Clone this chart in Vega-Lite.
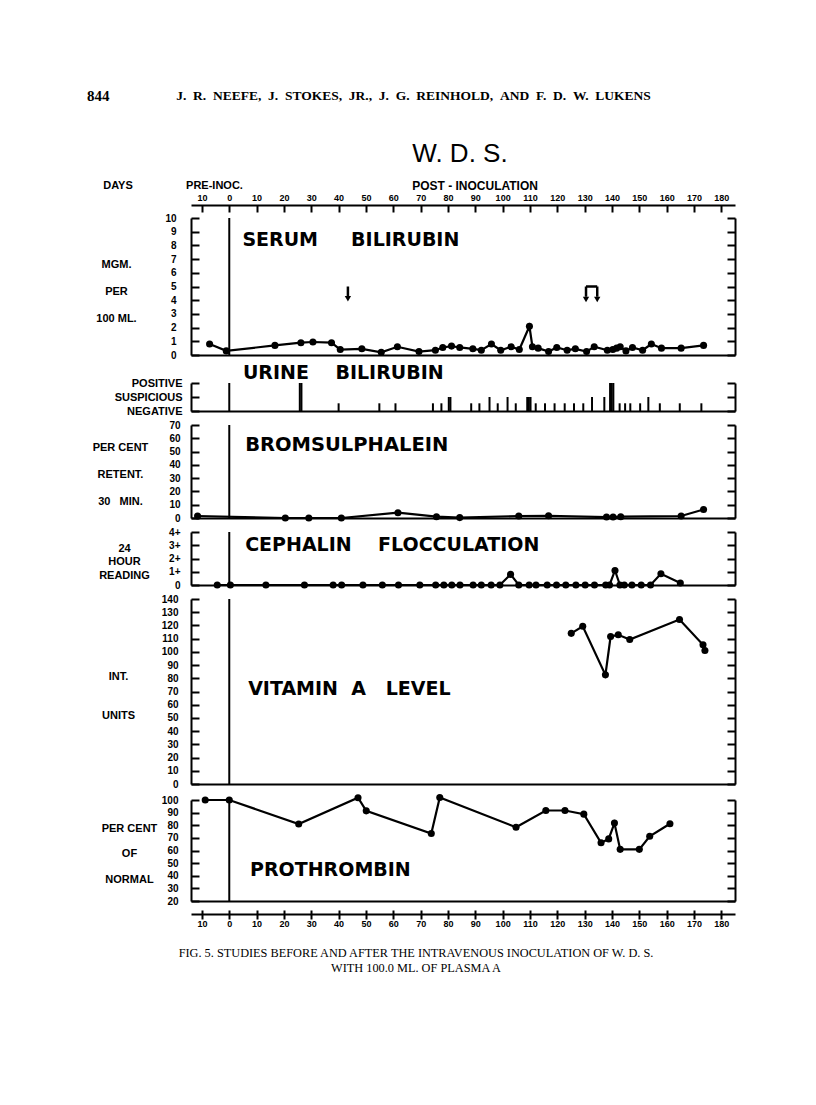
{
  "$schema": "https://vega.github.io/schema/vega-lite/v6.json",
  "background": "white",
  "padding": {"left": 87, "top": 89, "right": 10, "bottom": 10},
  "spacing": 4,
  "resolve": {"scale": {"x": "independent", "y": "independent"}},
  "config": {
    "view": {"stroke": null},
    "axis": {"domainColor": "#000", "domainWidth": 2, "tickColor": "#000", "tickWidth": 2, "labelColor": "#000", "labelFont": "Liberation Sans", "labelFontWeight": "bold", "labelFontSize": 10, "grid": false, "titleColor": "#000", "titleFont": "Liberation Sans", "titleFontWeight": "bold", "titleFontSize": 11, "labelOverlap": false, "labelFlush": false, "labelBound": false},
    "text": {"color": "#000"}
  },
  "vconcat": [
    {
      "width": 544, "height": 137,
      "resolve": {"axis": {"x": "independent", "y": "independent"}},
      "layer": [
        {"data": {"values": [{}]}, "mark": {"type": "rule", "color": "#000", "strokeWidth": 2},
         "encoding": {
           "x": {"datum": 0, "type": "quantitative", "scale": {"domain": [-14, 185], "nice": false, "zero": false}, "axis": {"orient": "bottom", "ticks": false, "labels": false, "title": null}},
           "y": {"datum": 10, "type": "quantitative", "scale": {"domain": [0, 10], "nice": false, "zero": false}, "axis": {"orient": "right", "values": [0,1,2,3,4,5,6,7,8,9,10], "tickSize": -8, "labels": false, "title": null}},
           "y2": {"datum": 0}}},
        {"data": {"values": [
          {"day": -7.2, "value": 0.8}, {"day": -1.1, "value": 0.3}, {"day": 16.7, "value": 0.7}, {"day": 26.2, "value": 0.9}, {"day": 30.6, "value": 0.95}, {"day": 37.4, "value": 0.9}, {"day": 40.6, "value": 0.4}, {"day": 48.5, "value": 0.45}, {"day": 55.6, "value": 0.2}, {"day": 61.5, "value": 0.6}, {"day": 69.4, "value": 0.25}, {"day": 75.4, "value": 0.35}, {"day": 78.1, "value": 0.55}, {"day": 81.3, "value": 0.65}, {"day": 84.3, "value": 0.55}, {"day": 89.1, "value": 0.45}, {"day": 92.2, "value": 0.35}, {"day": 95.9, "value": 0.8}, {"day": 99.3, "value": 0.35}, {"day": 103.1, "value": 0.6}, {"day": 106.1, "value": 0.4}, {"day": 109.8, "value": 2.1}, {"day": 110.9, "value": 0.6}, {"day": 113.0, "value": 0.5}, {"day": 116.8, "value": 0.25}, {"day": 119.8, "value": 0.55}, {"day": 123.6, "value": 0.35}, {"day": 126.6, "value": 0.45}, {"day": 130.7, "value": 0.25}, {"day": 133.5, "value": 0.6}, {"day": 138.3, "value": 0.35}, {"day": 140.3, "value": 0.4}, {"day": 141.7, "value": 0.5}, {"day": 143.0, "value": 0.6}, {"day": 145.1, "value": 0.3}, {"day": 147.5, "value": 0.55}, {"day": 151.2, "value": 0.35}, {"day": 154.4, "value": 0.8}, {"day": 158.1, "value": 0.5}, {"day": 165.3, "value": 0.5}, {"day": 173.5, "value": 0.7}]},
         "mark": {"type": "line", "color": "#000", "strokeWidth": 2.2, "point": {"filled": true, "size": 50, "color": "#000"}},
         "encoding": {
           "x": {"field": "day", "type": "quantitative", "scale": {"domain": [-14, 185], "nice": false, "zero": false}, "axis": {"orient": "top", "offset": 13, "values": [-10,0,10,20,30,40,50,60,70,80,90,100,110,120,130,140,150,160,170,180], "labelExpr": "'' + abs(datum.value)", "tickSize": -7, "labelPadding": 10, "labelFontSize": 9, "title": null}},
           "y": {"field": "value", "type": "quantitative", "scale": {"domain": [0, 10], "nice": false, "zero": false}, "axis": {"orient": "left", "values": [0,1,2,3,4,5,6,7,8,9,10], "tickSize": -8, "labelPadding": 23, "title": ["MGM.", "PER", "100 ML."], "titleAngle": 0, "titleAlign": "center", "titleBaseline": "top", "titleX": -75, "titleY": 40, "titleLineHeight": 27}}}},
        {"data": {"values": [{"x1": 43.4, "x2": 43.4, "y1": 5.0, "y2": 4.25}, {"x1": 130.5, "x2": 134.6, "y1": 5.0, "y2": 5.0}, {"x1": 130.5, "x2": 130.5, "y1": 5.0, "y2": 4.25}, {"x1": 134.6, "x2": 134.6, "y1": 5.0, "y2": 4.25}]},
         "mark": {"type": "rule", "color": "#000", "strokeWidth": 2.5},
         "encoding": {
           "x": {"field": "x1", "type": "quantitative", "scale": {"domain": [-14, 185], "nice": false, "zero": false}, "axis": null},
           "x2": {"field": "x2"},
           "y": {"field": "y1", "type": "quantitative", "scale": {"domain": [0, 10], "nice": false, "zero": false}, "axis": null},
           "y2": {"field": "y2"}}},
        {"data": {"values": [{"day": 43.4, "lvl": 4.1}, {"day": 130.5, "lvl": 4.05}, {"day": 134.6, "lvl": 4.05}]},
         "mark": {"type": "point", "shape": "triangle-down", "filled": true, "size": 40, "color": "#000", "opacity": 1},
         "encoding": {
           "x": {"field": "day", "type": "quantitative", "scale": {"domain": [-14, 185], "nice": false, "zero": false}, "axis": null},
           "y": {"field": "lvl", "type": "quantitative", "scale": {"domain": [0, 10], "nice": false, "zero": false}, "axis": null}}},
        {"data": {"values": [{}]}, "mark": {"type": "text", "text": "SERUM\u00a0\u00a0\u00a0\u00a0\u00a0BILIRUBIN", "align": "left", "baseline": "middle", "font": "DejaVu Sans", "fontWeight": "bold", "fontSize": 19},
         "encoding": {"x": {"datum": 4.8, "type": "quantitative", "scale": {"domain": [-14, 185], "nice": false, "zero": false}, "axis": null}, "y": {"datum": 8.4, "type": "quantitative", "scale": {"domain": [0, 10], "nice": false, "zero": false}, "axis": null}}},
        {"data": {"values": [{}]}, "mark": {"type": "text", "text": "844", "align": "left", "baseline": "middle", "font": "Liberation Serif", "fontWeight": "bold", "fontSize": 15},
         "encoding": {"x": {"datum": -52, "type": "quantitative", "scale": {"domain": [-14, 185], "nice": false, "zero": false}, "axis": null}, "y": {"datum": 18.9, "type": "quantitative", "scale": {"domain": [0, 10], "nice": false, "zero": false}, "axis": null}}},
        {"data": {"values": [{}]}, "mark": {"type": "text", "text": "J. \u00a0R. \u00a0NEEFE, \u00a0J. \u00a0STOKES, \u00a0JR., \u00a0J. \u00a0G. \u00a0REINHOLD, \u00a0AND \u00a0F. \u00a0D. \u00a0W. \u00a0LUKENS", "align": "center", "baseline": "middle", "font": "Liberation Serif", "fontWeight": "bold", "fontSize": 13.5},
         "encoding": {"x": {"datum": 67.4, "type": "quantitative", "scale": {"domain": [-14, 185], "nice": false, "zero": false}, "axis": null}, "y": {"datum": 18.9, "type": "quantitative", "scale": {"domain": [0, 10], "nice": false, "zero": false}, "axis": null}}},
        {"data": {"values": [{}]}, "mark": {"type": "text", "text": "W. D. S.", "align": "center", "baseline": "middle", "font": "Liberation Sans", "fontSize": 26},
         "encoding": {"x": {"datum": 84.4, "type": "quantitative", "scale": {"domain": [-14, 185], "nice": false, "zero": false}, "axis": null}, "y": {"datum": 14.67, "type": "quantitative", "scale": {"domain": [0, 10], "nice": false, "zero": false}, "axis": null}}},
        {"data": {"values": [{}]}, "mark": {"type": "text", "text": "DAYS", "align": "center", "baseline": "middle", "font": "Liberation Sans", "fontWeight": "bold", "fontSize": 11},
         "encoding": {"x": {"datum": -40.7, "type": "quantitative", "scale": {"domain": [-14, 185], "nice": false, "zero": false}, "axis": null}, "y": {"datum": 12.34, "type": "quantitative", "scale": {"domain": [0, 10], "nice": false, "zero": false}, "axis": null}}},
        {"data": {"values": [{}]}, "mark": {"type": "text", "text": "PRE-INOC.", "align": "center", "baseline": "middle", "font": "Liberation Sans", "fontWeight": "bold", "fontSize": 11},
         "encoding": {"x": {"datum": -5.4, "type": "quantitative", "scale": {"domain": [-14, 185], "nice": false, "zero": false}, "axis": null}, "y": {"datum": 12.34, "type": "quantitative", "scale": {"domain": [0, 10], "nice": false, "zero": false}, "axis": null}}},
        {"data": {"values": [{}]}, "mark": {"type": "text", "text": "POST - INOCULATION", "align": "center", "baseline": "middle", "font": "Liberation Sans", "fontWeight": "bold", "fontSize": 12},
         "encoding": {"x": {"datum": 89.9, "type": "quantitative", "scale": {"domain": [-14, 185], "nice": false, "zero": false}, "axis": null}, "y": {"datum": 12.34, "type": "quantitative", "scale": {"domain": [0, 10], "nice": false, "zero": false}, "axis": null}}}
      ]
    },
    {
      "width": 544, "height": 28,
      "resolve": {"axis": {"x": "independent", "y": "independent"}},
      "layer": [
        {"data": {"values": [{}]}, "mark": {"type": "rule", "color": "#000", "strokeWidth": 2},
         "encoding": {
           "x": {"datum": 0, "type": "quantitative", "scale": {"domain": [-14, 185], "nice": false, "zero": false}, "axis": {"orient": "bottom", "ticks": false, "labels": false, "title": null}},
           "y": {"datum": 2, "type": "quantitative", "scale": {"domain": [0, 2], "nice": false, "zero": false}, "axis": {"orient": "right", "values": [0, 1, 2], "tickSize": -8, "labels": false, "title": null}},
           "y2": {"datum": 0}}},
        {"data": {"values": [
          {"day": 25.8, "level": 2}, {"day": 26.4, "level": 2}, {"day": 40.0, "level": 0.55}, {"day": 54.9, "level": 0.55}, {"day": 60.8, "level": 0.55}, {"day": 74.5, "level": 0.55}, {"day": 77.6, "level": 0.55}, {"day": 80.3, "level": 1}, {"day": 80.9, "level": 1}, {"day": 88.5, "level": 0.55}, {"day": 91.5, "level": 0.55}, {"day": 95.2, "level": 1}, {"day": 98.2, "level": 0.55}, {"day": 101.8, "level": 1}, {"day": 104.8, "level": 0.55}, {"day": 109.0, "level": 1}, {"day": 109.6, "level": 1}, {"day": 110.2, "level": 1}, {"day": 112.1, "level": 0.55}, {"day": 115.5, "level": 0.55}, {"day": 119.0, "level": 0.55}, {"day": 122.7, "level": 0.55}, {"day": 126.1, "level": 0.55}, {"day": 129.5, "level": 0.55}, {"day": 132.7, "level": 1}, {"day": 137.2, "level": 1}, {"day": 139.3, "level": 2}, {"day": 139.9, "level": 2}, {"day": 140.5, "level": 2}, {"day": 142.8, "level": 0.55}, {"day": 144.8, "level": 0.55}, {"day": 146.7, "level": 0.55}, {"day": 150.3, "level": 0.55}, {"day": 153.3, "level": 1}, {"day": 157.5, "level": 0.55}, {"day": 164.8, "level": 0.55}, {"day": 172.7, "level": 0.55}]},
         "mark": {"type": "rule", "color": "#000", "strokeWidth": 2},
         "encoding": {
           "x": {"field": "day", "type": "quantitative", "scale": {"domain": [-14, 185], "nice": false, "zero": false}, "axis": null},
           "y": {"field": "level", "type": "quantitative", "scale": {"domain": [0, 2], "nice": false, "zero": false}, "axis": {"orient": "left", "values": [0, 1, 2], "labelExpr": "datum.value == 2 ? 'POSITIVE' : datum.value == 1 ? 'SUSPICIOUS' : 'NEGATIVE'", "labelFontSize": 11, "tickSize": -8, "labelPadding": 17, "title": null}},
           "y2": {"datum": 0}}},
        {"data": {"values": [{}]}, "mark": {"type": "text", "text": "URINE\u00a0\u00a0\u00a0\u00a0BILIRUBIN", "align": "left", "baseline": "middle", "font": "DejaVu Sans", "fontWeight": "bold", "fontSize": 19},
         "encoding": {"x": {"datum": 5.0, "type": "quantitative", "scale": {"domain": [-14, 185], "nice": false, "zero": false}, "axis": null}, "y": {"datum": 2.71, "type": "quantitative", "scale": {"domain": [0, 2], "nice": false, "zero": false}, "axis": null}}}
      ]
    },
    {
      "width": 544, "height": 93,
      "resolve": {"axis": {"x": "independent", "y": "independent"}},
      "layer": [
        {"data": {"values": [{}]}, "mark": {"type": "rule", "color": "#000", "strokeWidth": 2},
         "encoding": {
           "x": {"datum": 0, "type": "quantitative", "scale": {"domain": [-14, 185], "nice": false, "zero": false}, "axis": {"orient": "bottom", "ticks": false, "labels": false, "title": null}},
           "y": {"datum": 70, "type": "quantitative", "scale": {"domain": [0, 70], "nice": false, "zero": false}, "axis": {"orient": "right", "values": [0,10,20,30,40,50,60,70], "tickSize": -8, "labels": false, "title": null}},
           "y2": {"datum": 0}}},
        {"data": {"values": [
          {"day": -11.6, "value": 1.5}, {"day": 20.5, "value": 0}, {"day": 29.1, "value": 0}, {"day": 41.0, "value": 0}, {"day": 61.7, "value": 4}, {"day": 75.8, "value": 1}, {"day": 84.3, "value": 0.3}, {"day": 105.9, "value": 1.5}, {"day": 116.8, "value": 1.7}, {"day": 138.0, "value": 0.7}, {"day": 140.4, "value": 0.7}, {"day": 143.2, "value": 1}, {"day": 165.3, "value": 1.5}, {"day": 173.5, "value": 6.4}]},
         "mark": {"type": "line", "color": "#000", "strokeWidth": 2.2, "point": {"filled": true, "size": 50, "color": "#000"}},
         "encoding": {
           "x": {"field": "day", "type": "quantitative", "scale": {"domain": [-14, 185], "nice": false, "zero": false}, "axis": null},
           "y": {"field": "value", "type": "quantitative", "scale": {"domain": [0, 70], "nice": false, "zero": false}, "axis": {"orient": "left", "values": [0,10,20,30,40,50,60,70], "tickSize": -8, "labelPadding": 19, "title": ["PER CENT", "RETENT.", "30\u00a0\u00a0 MIN."], "titleAngle": 0, "titleAlign": "center", "titleBaseline": "top", "titleX": -71, "titleY": 16, "titleLineHeight": 27}}}},
        {"data": {"values": [{}]}, "mark": {"type": "text", "text": "BROMSULPHALEIN", "align": "left", "baseline": "middle", "font": "DejaVu Sans", "fontWeight": "bold", "fontSize": 19.5},
         "encoding": {"x": {"datum": 5.8, "type": "quantitative", "scale": {"domain": [-14, 185], "nice": false, "zero": false}, "axis": null}, "y": {"datum": 54.9, "type": "quantitative", "scale": {"domain": [0, 70], "nice": false, "zero": false}, "axis": null}}}
      ]
    },
    {
      "width": 544, "height": 53,
      "resolve": {"axis": {"x": "independent", "y": "independent"}},
      "layer": [
        {"data": {"values": [{}]}, "mark": {"type": "rule", "color": "#000", "strokeWidth": 2},
         "encoding": {
           "x": {"datum": 0, "type": "quantitative", "scale": {"domain": [-14, 185], "nice": false, "zero": false}, "axis": {"orient": "bottom", "ticks": false, "labels": false, "title": null}},
           "y": {"datum": 4, "type": "quantitative", "scale": {"domain": [0, 4], "nice": false, "zero": false}, "axis": {"orient": "right", "values": [0,1,2,3,4], "tickSize": -8, "labels": false, "title": null}},
           "y2": {"datum": 0}}},
        {"data": {"values": [
          {"day": -4.4, "value": 0}, {"day": 0.4, "value": 0}, {"day": 13.4, "value": 0}, {"day": 27.5, "value": 0}, {"day": 38.0, "value": 0}, {"day": 41.1, "value": 0}, {"day": 48.9, "value": 0}, {"day": 56.0, "value": 0}, {"day": 61.9, "value": 0}, {"day": 69.7, "value": 0}, {"day": 75.5, "value": 0}, {"day": 78.5, "value": 0}, {"day": 81.4, "value": 0}, {"day": 84.4, "value": 0}, {"day": 89.2, "value": 0}, {"day": 92.2, "value": 0}, {"day": 95.8, "value": 0}, {"day": 99.0, "value": 0}, {"day": 102.9, "value": 0.8}, {"day": 105.9, "value": 0}, {"day": 109.7, "value": 0}, {"day": 112.2, "value": 0}, {"day": 116.3, "value": 0}, {"day": 119.7, "value": 0}, {"day": 123.1, "value": 0}, {"day": 126.8, "value": 0}, {"day": 130.2, "value": 0}, {"day": 133.6, "value": 0}, {"day": 137.7, "value": 0}, {"day": 139.1, "value": 0}, {"day": 141.1, "value": 1.1}, {"day": 142.9, "value": 0}, {"day": 144.5, "value": 0}, {"day": 147.3, "value": 0}, {"day": 150.7, "value": 0}, {"day": 154.1, "value": 0}, {"day": 157.9, "value": 0.85}, {"day": 165.0, "value": 0.15}]},
         "mark": {"type": "line", "color": "#000", "strokeWidth": 2.2, "point": {"filled": true, "size": 50, "color": "#000"}},
         "encoding": {
           "x": {"field": "day", "type": "quantitative", "scale": {"domain": [-14, 185], "nice": false, "zero": false}, "axis": null},
           "y": {"field": "value", "type": "quantitative", "scale": {"domain": [0, 4], "nice": false, "zero": false}, "axis": {"orient": "left", "values": [0,1,2,3,4], "labelExpr": "datum.value == 0 ? '0' : datum.value + '+'", "tickSize": -8, "labelPadding": 19, "title": ["24", "HOUR", "READING"], "titleAngle": 0, "titleAlign": "center", "titleBaseline": "top", "titleX": -67, "titleY": 10, "titleLineHeight": 13.7}}}},
        {"data": {"values": [{}]}, "mark": {"type": "text", "text": "CEPHALIN\u00a0\u00a0\u00a0\u00a0FLOCCULATION", "align": "left", "baseline": "middle", "font": "DejaVu Sans", "fontWeight": "bold", "fontSize": 19},
         "encoding": {"x": {"datum": 5.8, "type": "quantitative", "scale": {"domain": [-14, 185], "nice": false, "zero": false}, "axis": null}, "y": {"datum": 3.02, "type": "quantitative", "scale": {"domain": [0, 4], "nice": false, "zero": false}, "axis": null}}}
      ]
    },
    {
      "width": 544, "height": 185,
      "resolve": {"axis": {"x": "independent", "y": "independent"}},
      "layer": [
        {"data": {"values": [{}]}, "mark": {"type": "rule", "color": "#000", "strokeWidth": 2},
         "encoding": {
           "x": {"datum": 0, "type": "quantitative", "scale": {"domain": [-14, 185], "nice": false, "zero": false}, "axis": {"orient": "bottom", "ticks": false, "labels": false, "title": null}},
           "y": {"datum": 140, "type": "quantitative", "scale": {"domain": [0, 140], "nice": false, "zero": false}, "axis": {"orient": "right", "values": [0,10,20,30,40,50,60,70,80,90,100,110,120,130,140], "tickSize": -8, "labels": false, "title": null}},
           "y2": {"datum": 0}}},
        {"data": {"values": [
          {"day": 125.1, "value": 114}, {"day": 129.3, "value": 119.4}, {"day": 137.6, "value": 82.6}, {"day": 139.5, "value": 111.6}, {"day": 142.3, "value": 112.9}, {"day": 146.5, "value": 109.3}, {"day": 164.7, "value": 124.5}, {"day": 173.3, "value": 105.3}, {"day": 174.0, "value": 101}]},
         "mark": {"type": "line", "color": "#000", "strokeWidth": 2.2, "point": {"filled": true, "size": 50, "color": "#000"}},
         "encoding": {
           "x": {"field": "day", "type": "quantitative", "scale": {"domain": [-14, 185], "nice": false, "zero": false}, "axis": null},
           "y": {"field": "value", "type": "quantitative", "scale": {"domain": [0, 140], "nice": false, "zero": false}, "axis": {"orient": "left", "values": [0,10,20,30,40,50,60,70,80,90,100,110,120,130,140], "tickSize": -8, "labelPadding": 21, "title": ["INT.", "UNITS"], "titleAngle": 0, "titleAlign": "center", "titleBaseline": "top", "titleX": -73, "titleY": 71, "titleLineHeight": 39}}}},
        {"data": {"values": [{}]}, "mark": {"type": "text", "text": "VITAMIN\u00a0\u00a0A\u00a0\u00a0\u00a0LEVEL", "align": "left", "baseline": "middle", "font": "DejaVu Sans", "fontWeight": "bold", "fontSize": 19},
         "encoding": {"x": {"datum": 6.9, "type": "quantitative", "scale": {"domain": [-14, 185], "nice": false, "zero": false}, "axis": null}, "y": {"datum": 71.9, "type": "quantitative", "scale": {"domain": [0, 140], "nice": false, "zero": false}, "axis": null}}}
      ]
    },
    {
      "width": 544, "height": 101,
      "title": {"text": ["FIG. 5.   STUDIES BEFORE AND AFTER THE INTRAVENOUS INOCULATION OF W. D. S.", "WITH 100.0 ML. OF PLASMA A"], "orient": "bottom", "anchor": "middle", "dx": -47, "offset": 19, "font": "Liberation Serif", "fontSize": 12.3, "fontWeight": "normal", "color": "#000", "lineHeight": 15},
      "resolve": {"axis": {"x": "independent", "y": "independent"}},
      "layer": [
        {"data": {"values": [{}]}, "mark": {"type": "rule", "color": "#000", "strokeWidth": 2},
         "encoding": {
           "x": {"datum": 0, "type": "quantitative", "scale": {"domain": [-14, 185], "nice": false, "zero": false}, "axis": {"orient": "bottom", "ticks": false, "labels": false, "title": null}},
           "y": {"datum": 100, "type": "quantitative", "scale": {"domain": [20, 100], "nice": false, "zero": false}, "axis": {"orient": "right", "values": [20,30,40,50,60,70,80,90,100], "tickSize": -8, "labels": false, "title": null}},
           "y2": {"datum": 20}}},
        {"data": {"values": [
          {"day": -8.8, "value": 100}, {"day": 0.0, "value": 100}, {"day": 25.4, "value": 81}, {"day": 47.1, "value": 101.8}, {"day": 50.1, "value": 91.4}, {"day": 73.9, "value": 73.4}, {"day": 77.0, "value": 102}, {"day": 104.9, "value": 78.4}, {"day": 115.8, "value": 91.7}, {"day": 122.8, "value": 91.7}, {"day": 129.7, "value": 88.8}, {"day": 136.0, "value": 66.1}, {"day": 138.8, "value": 69.2}, {"day": 140.9, "value": 81.7}, {"day": 143.0, "value": 60.9}, {"day": 150.0, "value": 60.9}, {"day": 153.8, "value": 71.3}, {"day": 161.2, "value": 81.2}]},
         "mark": {"type": "line", "color": "#000", "strokeWidth": 2.2, "point": {"filled": true, "size": 50, "color": "#000"}},
         "encoding": {
           "x": {"field": "day", "type": "quantitative", "scale": {"domain": [-14, 185], "nice": false, "zero": false}, "axis": {"orient": "bottom", "offset": 13, "values": [-10,0,10,20,30,40,50,60,70,80,90,100,110,120,130,140,150,160,170,180], "labelExpr": "'' + abs(datum.value)", "tickSize": 5, "labelPadding": 0, "labelFontSize": 9, "title": null}},
           "y": {"field": "value", "type": "quantitative", "scale": {"domain": [20, 100], "nice": false, "zero": false}, "axis": {"orient": "left", "values": [20,30,40,50,60,70,80,90,100], "tickSize": -8, "labelPadding": 21, "title": ["PER CENT", "OF", "NORMAL"], "titleAngle": 0, "titleAlign": "center", "titleBaseline": "top", "titleX": -62, "titleY": 22, "titleLineHeight": 25.5}}}},
        {"data": {"values": [{}]}, "mark": {"type": "text", "text": "PROTHROMBIN", "align": "left", "baseline": "middle", "font": "DejaVu Sans", "fontWeight": "bold", "fontSize": 19},
         "encoding": {"x": {"datum": 7.6, "type": "quantitative", "scale": {"domain": [-14, 185], "nice": false, "zero": false}, "axis": {"orient": "bottom", "offset": 13, "values": [-10,0,10,20,30,40,50,60,70,80,90,100,110,120,130,140,150,160,170,180], "domain": false, "labels": false, "tickSize": -4, "title": null}}, "y": {"datum": 44.6, "type": "quantitative", "scale": {"domain": [20, 100], "nice": false, "zero": false}, "axis": null}}}
      ]
    }
  ]
}
